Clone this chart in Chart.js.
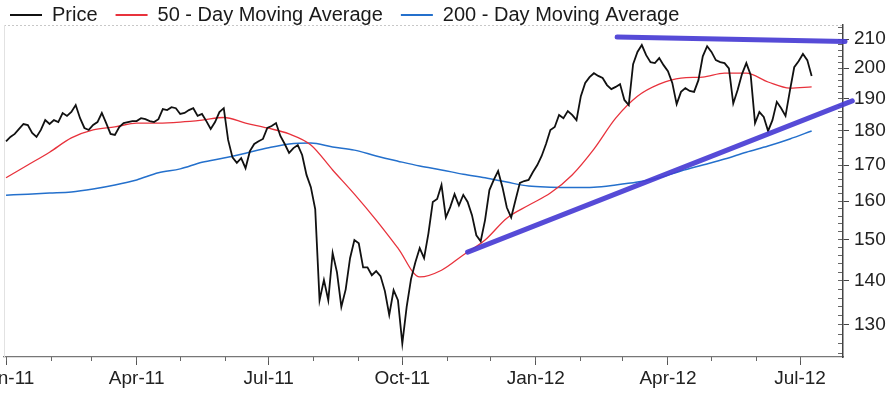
<!DOCTYPE html>
<html><head><meta charset="utf-8">
<script src="https://cdn.jsdelivr.net/npm/chart.js@4.4.1/dist/chart.umd.min.js"></script>
<style>html,body{margin:0;padding:0;background:#fff;overflow:hidden}canvas{display:block}</style>
</head><body>
<canvas id="c" width="892" height="397"></canvas>
<script>
// ---------- data ----------
const seriesNames = ['Price', '50 - Day Moving Average', '200 - Day Moving Average'];
const startDate = '2011-01-01';
const priceStepDays = 3;
const price = [
176.9,178.2,179.1,180.6,182.1,181.8,179.4,178.2,180.3,183.3,
182.1,183.3,182.7,185.5,184.6,185.8,188.0,183.9,180.9,180.3,
181.8,182.7,185.5,182.4,179.1,178.8,181.2,182.4,182.7,183.0,
183.0,183.9,183.6,183.0,182.7,183.6,186.7,186.4,187.3,187.0,
185.2,185.5,186.4,187.0,184.6,185.2,183.0,180.6,182.7,185.8,
187.0,177.3,172.2,170.6,172.0,169.1,174.0,176.1,176.9,177.6,
180.9,181.5,182.4,178.5,176.1,173.5,174.9,175.8,172.9,167.2,
163.8,157.9,135.5,140.2,135.5,146.7,142.0,134.0,138.0,145.4,
149.9,149.1,143.2,143.2,141.3,142.3,141.1,137.6,132.2,137.8,
135.5,126.0,134.0,140.4,144.4,147.9,145.4,151.6,159.8,160.6,
164.4,155.7,158.4,161.9,158.9,161.7,159.8,156.3,151.1,149.6,
155.0,163.0,165.8,168.3,163.8,158.3,155.7,160.3,165.0,165.5,
165.8,168.0,170.0,172.6,176.1,180.3,181.2,184.9,183.9,186.1,
184.9,183.3,190.8,195.1,197.0,198.3,197.4,196.7,194.4,193.1,
193.8,194.7,189.6,188.0,201.3,205.5,207.9,204.4,202.0,201.7,
203.4,201.0,199.0,195.1,188.3,192.2,193.4,192.5,192.2,196.0,
204.0,207.5,205.5,202.7,202.0,201.7,199.9,188.5,192.8,198.0,
201.7,197.7,182.4,185.8,184.3,180.0,183.3,189.0,187.0,184.6,
192.5,200.3,202.3,204.8,202.7,197.4
];
const maStepDays = 15;
const ma50 = [
166.4,170.0,173.7,177.9,180.3,181.2,182.4,182.4,182.7,183.3,
184.1,182.4,180.9,179.1,175.8,168.6,161.9,155.0,147.9,140.9,
142.5,146.2,149.9,155.5,158.9,162.2,167.2,174.6,183.9,190.8,
194.7,196.7,197.0,198.3,198.3,195.4,193.4,193.8
];
const ma200 = [
161.6,161.9,162.2,162.5,163.3,164.4,165.8,167.8,168.9,170.8,
172.0,173.4,174.9,176.1,176.4,175.2,174.3,172.6,171.1,169.7,
168.6,167.4,166.4,165.2,164.1,163.8,163.7,163.8,164.4,165.2,
166.4,168.3,170.0,171.7,173.7,175.5,177.6,180.0
];
// hand-drawn trend lines (annotations)
const resistanceDates = ['2012-02-26', '2012-08-01'];
const resistanceValues = [210.7, 209.1];
const supportDates = ['2011-11-15', '2012-08-06'];
const supportValues = [146.9, 189.3];
// axes
const xTickDates = ['2011-01-01','2011-04-01','2011-07-01','2011-10-01','2012-01-01','2012-04-01','2012-07-01'];
const xTickLabels = ['Jan-11','Apr-11','Jul-11','Oct-11','Jan-12','Apr-12','Jul-12'];
const yTickValues = [130,140,150,160,170,180,190,200,210];

// ---------- helpers ----------
const t0 = Date.parse(startDate + 'T00:00:00Z');
const dayOf = s => (Date.parse(s + 'T00:00:00Z') - t0) / 864e5;
const toPts = (vals, step) => vals.map((v, i) => ({x: i * step, y: v}));
const pairPts = (dates, vals) => dates.map((d, i) => ({x: dayOf(d), y: vals[i]}));
const monthTicks = [];
for (let y = 2011; y <= 2012; y++) for (let m = 1; m <= 12; m++) {
  const s = y + '-' + String(m).padStart(2, '0') + '-01';
  const d = dayOf(s); if (d <= 577) monthTicks.push(d);
}
const minorY = []; for (let v = 124; v <= 214; v += 2) minorY.push(v);
const X_MIN = -1.4, X_MAX = 576.6, Y_MIN = 123.2, Y_MAX = 215.0;
const FONT = 'Liberation Sans, Arial, sans-serif';

const frame = {
  id: 'frame',
  beforeDatasetsDraw(chart) {
    const {ctx, chartArea: a} = chart;
    ctx.save();
    ctx.lineWidth = 1;
    ctx.strokeStyle = '#c8c8c8';
    ctx.setLineDash([2, 2]);
    ctx.beginPath(); ctx.moveTo(a.left, a.top + 0.5); ctx.lineTo(a.right, a.top + 0.5); ctx.stroke();
    ctx.setLineDash([]);
    ctx.strokeStyle = '#e2e2e2';
    ctx.beginPath(); ctx.moveTo(a.left + 0.5, a.top); ctx.lineTo(a.left + 0.5, a.bottom); ctx.stroke();
    ctx.restore();
  }
};

new Chart(document.getElementById('c'), {
  type: 'line',
  data: {
    datasets: [
      {label: seriesNames[0], data: toPts(price, priceStepDays), borderColor: '#111111', borderWidth: 1.8},
      {label: seriesNames[1], data: toPts(ma50, maStepDays), borderColor: '#e8323c', borderWidth: 1.3, cubicInterpolationMode: 'monotone'},
      {label: seriesNames[2], data: toPts(ma200, maStepDays), borderColor: '#2470cc', borderWidth: 1.5, cubicInterpolationMode: 'monotone'},
      {label: 'resistance', data: pairPts(resistanceDates, resistanceValues), borderColor: 'rgba(72,60,212,0.92)', borderWidth: 5, borderCapStyle: 'round', clip: false, order: -1},
      {label: 'support', data: pairPts(supportDates, supportValues), borderColor: 'rgba(72,60,212,0.92)', borderWidth: 5, borderCapStyle: 'round', clip: false, order: -1}
    ]
  },
  options: {
    responsive: false, animation: false, devicePixelRatio: 1,
    elements: {point: {radius: 0, hoverRadius: 0}, line: {tension: 0, fill: false}},
    layout: {padding: {top: -13, left: -8, right: 0, bottom: 0}},
    plugins: {
      tooltip: {enabled: false},
      legend: {
        position: 'top', align: 'start', maxHeight: 38,
        labels: {
          font: {family: FONT, size: 20}, color: '#1a1a1a',
          usePointStyle: true, pointStyle: 'line', pointStyleWidth: 32, padding: 18,
          generateLabels: chart => Chart.defaults.plugins.legend.labels.generateLabels(chart)
            .filter(l => l.datasetIndex < 3).map(l => Object.assign(l, {lineWidth: 2}))
        }
      }
    },
    scales: {
      x: {
        type: 'linear', position: 'bottom', min: X_MIN, max: X_MAX, weight: 1,
        afterBuildTicks: s => { s.ticks = xTickDates.map(d => ({value: dayOf(d)})); },
        afterFit: s => { s.height = 40; s.paddingLeft = 4; s.paddingRight = 0; },
        ticks: {autoSkip: false, maxRotation: 0, color: '#222', font: {family: FONT, size: 19}, padding: 2,
          callback: (v, i) => xTickLabels[i]},
        grid: {drawOnChartArea: false, tickLength: 8, color: '#555'},
        border: {color: '#777', width: 1.2}
      },
      xMinor: {
        type: 'linear', position: 'bottom', min: X_MIN, max: X_MAX, weight: 0,
        afterBuildTicks: s => { s.ticks = monthTicks.map(d => ({value: d})); },
        afterFit: s => { s.height = 0; s.paddingLeft = 0; s.paddingRight = 0; },
        ticks: {display: false},
        grid: {drawOnChartArea: false, tickLength: 4, color: '#666'},
        border: {display: false}
      },
      y: {
        type: 'logarithmic', position: 'right', min: Y_MIN, max: Y_MAX, weight: 1,
        afterBuildTicks: s => { s.ticks = yTickValues.map(v => ({value: v})); },
        afterFit: s => { s.width = 49; s.paddingTop = 25; s.paddingBottom = 0; },
        ticks: {autoSkip: false, color: '#222', font: {family: FONT, size: 19}, padding: 5,
          callback: v => String(v)},
        grid: {drawOnChartArea: false, tickLength: 6, color: '#444'},
        border: {color: '#444', width: 1.5}
      },
      yMinor: {
        type: 'logarithmic', position: 'right', min: Y_MIN, max: Y_MAX, weight: 0,
        afterBuildTicks: s => { s.ticks = minorY.map(v => ({value: v})); },
        afterFit: s => { s.width = 0; s.paddingTop = 0; s.paddingBottom = 0; },
        ticks: {display: false},
        grid: {drawOnChartArea: false, tickLength: -5, color: '#666'},
        border: {display: false}
      }
    }
  },
  plugins: [frame]
});
</script>
</body></html>
